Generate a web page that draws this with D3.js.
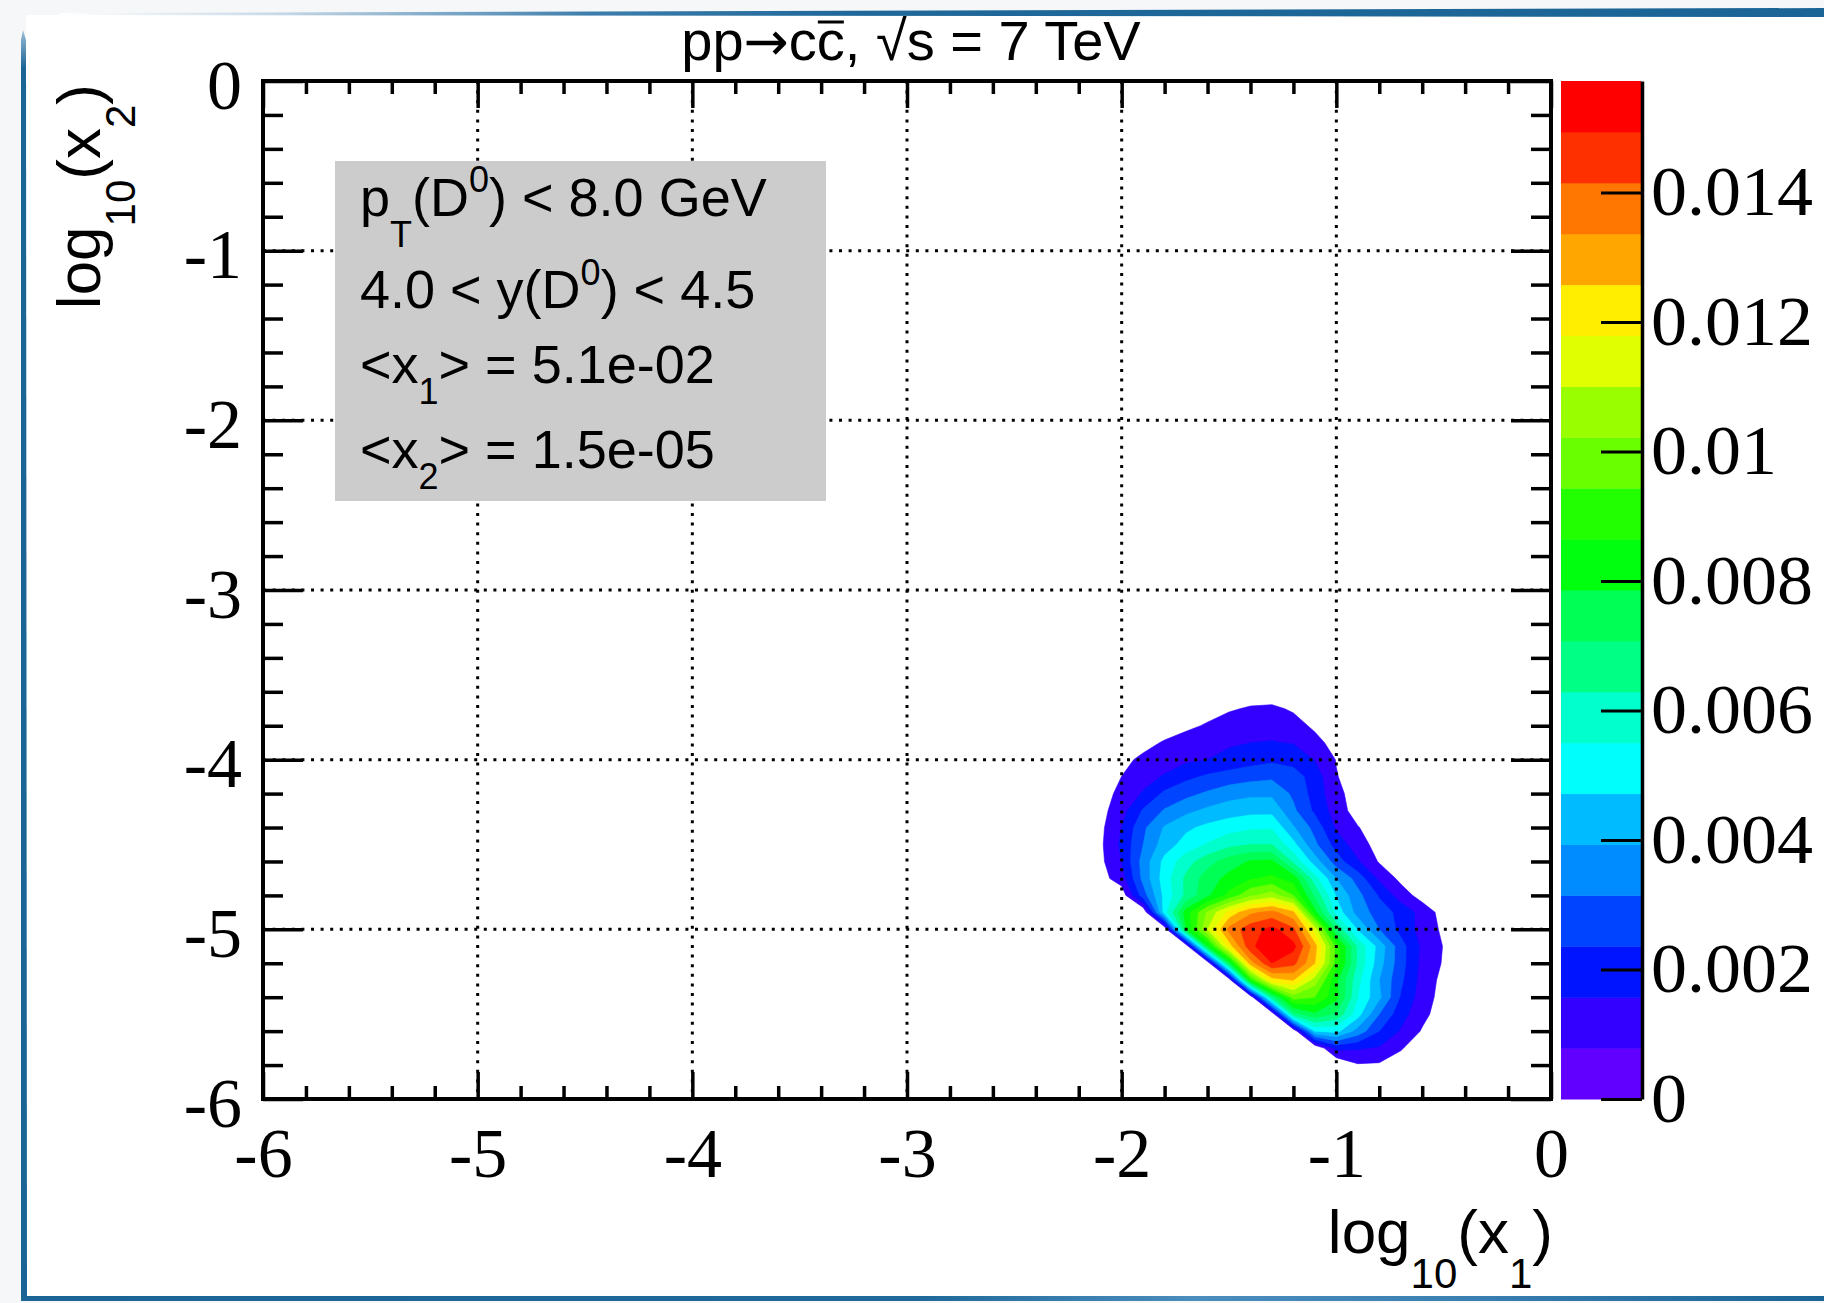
<!DOCTYPE html>
<html><head><meta charset="utf-8">
<script src="https://cdn.jsdelivr.net/npm/d3@7"></script>
<style>html,body{margin:0;padding:0;background:#f6f7f8;} svg{display:block;}</style>
</head><body>
<svg id="chart" width="1824" height="1303"></svg>
<script>
// ---------------- data ----------------
// bin centres of log10(x1) (columns) and log10(x2) (rows, top to bottom)
const xCenters = [-2.2,-2.1,-2.0,-1.9,-1.8,-1.7,-1.6,-1.5,-1.4,-1.3,-1.2,-1.1,-1.0,-0.9,-0.8,-0.7,-0.6,-0.5,-0.4];
const yCenters = [-3.5,-3.6,-3.7,-3.8,-3.9,-4.0,-4.1,-4.2,-4.3,-4.4,-4.5,-4.6,-4.7,-4.8,-4.9,-5.0,-5.1,-5.2,-5.3,-5.4,-5.5,-5.6,-5.7,-5.8,-5.9];
// density values, in units of 1e-3 (one row per yCenter)
const zUnit = 1e-3;
const zGrid = [
 [0,0,0,0,0,0,0,0,0,0,0,0,0,0,0,0,0,0,0],
 [0,0,0,0,0,0,0.16,0.28,0.39,0.43,0.35,0.16,0,0,0,0,0,0,0],
 [0,0,0,0,0.08,0.31,0.51,0.71,0.86,0.90,0.71,0.39,0.16,0,0,0,0,0,0],
 [0,0,0,0.16,0.39,0.63,0.86,1.10,1.22,1.26,1.02,0.67,0.39,0.16,0,0,0,0,0],
 [0,0,0.24,0.55,0.86,1.10,1.30,1.45,1.57,1.61,1.53,0.98,0.55,0.28,0.08,0,0,0,0],
 [0,0.24,0.59,0.94,1.18,1.41,1.57,1.85,2.04,2.20,2.04,1.53,0.75,0.35,0.12,0,0,0,0],
 [0,0.39,0.79,1.26,1.65,2.16,2.48,2.67,2.87,2.99,2.75,1.97,0.83,0.35,0.12,0,0,0,0],
 [0.08,0.47,0.98,1.65,2.52,2.91,3.26,3.62,3.77,3.77,2.99,2.04,1.02,0.39,0.12,0,0,0,0],
 [0.16,0.51,1.26,2.44,3.22,3.73,4.09,4.32,4.48,4.48,3.30,2.20,1.18,0.43,0.12,0,0,0,0],
 [0.20,0.59,1.57,2.99,4.01,4.56,4.91,5.19,5.38,5.42,4.01,2.87,1.45,0.83,0.31,0.08,0,0,0],
 [0.24,0.63,1.73,3.14,4.32,5.03,5.58,6.05,6.29,6.29,4.95,3.30,2.04,1.14,0.47,0.16,0,0,0],
 [0.20,0.59,1.57,3.46,4.95,5.97,6.76,7.47,7.94,8.02,6.13,4.32,2.75,1.65,0.71,0.28,0.08,0,0],
 [0.16,0.47,1.18,3.38,5.11,6.45,7.47,8.10,8.57,8.80,8.33,5.82,3.93,2.83,1.41,0.59,0.20,0.04,0],
 [0,0,0.30,2.75,4.95,6.45,7.70,8.88,10.06,10.61,9.43,6.92,4.64,3.38,2.28,1.18,0.47,0.12,0],
 [0,0,0,0,5.11,8.25,10.30,12.03,13.20,13.60,12.73,8.10,5.19,3.62,2.75,2.12,1.26,0.47,0.08],
 [0,0,0,0,0,7.86,11.00,13.60,14.62,15.17,14.31,11.40,6.92,4.64,3.14,2.12,1.26,0.63,0.16],
 [0,0,0,0,0,0,7.86,12.18,14.70,15.72,15.17,12.89,9.12,6.13,4.40,2.67,1.41,0.75,0.24],
 [0,0,0,0,0,0,0,7.47,12.97,14.93,14.38,12.58,9.04,6.13,4.24,2.67,1.34,0.71,0.20],
 [0,0,0,0,0,0,0,0,8.65,12.18,12.58,10.61,8.02,5.74,3.93,2.52,1.26,0.55,0.12],
 [0,0,0,0,0,0,0,0,0,6.68,9.83,9.43,8.10,5.50,4.09,2.28,1.18,0.47,0.08],
 [0,0,0,0,0,0,0,0,0,0,6.68,7.70,6.92,5.03,3.14,1.89,1.02,0.35,0.04],
 [0,0,0,0,0,0,0,0,0,0,0,4.72,4.95,3.62,2.36,1.49,0.71,0.16,0],
 [0,0,0,0,0,0,0,0,0,0,0,0,1.81,1.65,1.49,0.86,0.31,0,0],
 [0,0,0,0,0,0,0,0,0,0,0,0,0,0.71,0.67,0.39,0.08,0,0],
 [0,0,0,0,0,0,0,0,0,0,0,0,0,0,0,0,0,0,0]
];
const zMax = 0.01572;
const nLevels = 20;
const palette = ["#6200ff","#3300ff","#0014ff","#0044ff","#008bff","#00bbff","#00fffc","#00ffcc","#00ff85","#00ff55",
                 "#00ff0e","#22ff00","#69ff00","#99ff00","#e0ff00","#ffee00","#ffa700","#ff7700","#ff3000","#ff0000"];
const axisTicks = [-6,-5,-4,-3,-2,-1,0];
const axisTickLabels = ["-6","-5","-4","-3","-2","-1","0"];
const gridValues = [-5,-4,-3,-2,-1];
const zTicks = [0,0.002,0.004,0.006,0.008,0.010,0.012,0.014];
const zTickLabels = ["0","0.002","0.004","0.006","0.008","0.01","0.012","0.014"];
const titleParts = [{t:"pp"},{t:"\u2192",arrow:true},{t:"cc, \u221As = 7 TeV"}];
const legendLines = [
  [{t:"p"},{t:"T",s:31},{t:"(D"},{t:"0",s:-24},{t:") < 8.0 GeV"}],
  [{t:"4.0 < y(D"},{t:"0",s:-23},{t:") < 4.5"}],
  [{t:"<x"},{t:"1",s:21},{t:"> = 5.1e-02"}],
  [{t:"<x"},{t:"2",s:21},{t:"> = 1.5e-05"}]
];

// ---------------- layout ----------------
const W = 1824, H = 1303;
const F = {left: 263, right: 1551, top: 81, bottom: 1099};
const CB = {x: 1561, w: 80, axis: 1642, labelWidth: 162};
const serif = "'Liberation Serif','Times New Roman',serif";
const sans = "'Liberation Sans',Arial,Helvetica,sans-serif";
const blue = "#1a6496";

const svg = d3.select("#chart");
const defs = svg.append("defs");

// page decoration
svg.append("rect").attr("width", W).attr("height", H).attr("fill", "#f6f7f8");
svg.append("rect").attr("x", 26).attr("y", 15).attr("width", W - 26).attr("height", 1282).attr("fill", "#ffffff");
const gTop = defs.append("linearGradient").attr("id","gTop").attr("gradientUnits","userSpaceOnUse")
  .attr("x1",60).attr("x2",1824).attr("y1",0).attr("y2",0);
[[0,"#ffffff"],[0.12,"#c9dae8"],[0.3,"#3d7dab"],[0.45,"#1f6899"],[1,blue]].forEach(s =>
  gTop.append("stop").attr("offset", s[0]).attr("stop-color", s[1]));
svg.append("path").attr("d","M60,13 L1824,8 L1824,17 L60,15 Z").attr("fill","url(#gTop)");
const gBot = defs.append("linearGradient").attr("id","gBot").attr("gradientUnits","userSpaceOnUse")
  .attr("x1",20).attr("x2",1824).attr("y1",0).attr("y2",0);
[[0,blue],[0.5,"#1f6a9b"],[0.65,"#4b8dbd"],[0.8,"#3a80b2"],[1,blue]].forEach(s =>
  gBot.append("stop").attr("offset", s[0]).attr("stop-color", s[1]));
svg.append("rect").attr("x", 21).attr("y", 1296).attr("width", W - 21).attr("height", 5).attr("fill","url(#gBot)");
const gLeft = defs.append("linearGradient").attr("id","gLeft").attr("x1",0).attr("x2",0).attr("y1",0).attr("y2",1);
[[0,"#9fc0d8"],[0.03,blue],[1,blue]].forEach(s => gLeft.append("stop").attr("offset", s[0]).attr("stop-color", s[1]));
svg.append("path").attr("d","M23,30 L26,40 L27,1300 L21,1300 L21,40 Z").attr("fill","url(#gLeft)");

// scales
const x = d3.scaleLinear().domain([-6, 0]).range([F.left, F.right]);
const y = d3.scaleLinear().domain([-6, 0]).range([F.bottom, F.top]);
const zScale = d3.scaleLinear().domain([0, zMax]).range([F.bottom, F.top]);

// contours
const nx = xCenters.length, ny = yCenters.length;
const values = zGrid.flat().map(v => v * zUnit);
const dz = zMax / nLevels;
const thresholds = d3.range(1, nLevels).map(k => k * dz);
const contours = d3.contours().size([nx, ny]).thresholds(thresholds)(values);
const gx = d3.scaleLinear().domain([0.5, nx - 0.5]).range([x(xCenters[0]), x(xCenters[nx - 1])]);
const gy = d3.scaleLinear().domain([0.5, ny - 0.5]).range([y(yCenters[0]), y(yCenters[ny - 1])]);
const proj = d3.geoTransform({point(px, py) { this.stream.point(gx(px), gy(py)); }});
const path = d3.geoPath(proj);
defs.append("clipPath").attr("id","frameClip").append("rect")
  .attr("x", F.left).attr("y", F.top).attr("width", F.right - F.left).attr("height", F.bottom - F.top);
svg.append("g").attr("clip-path","url(#frameClip)")
  .selectAll("path").data(contours).join("path")
  .attr("d", path)
  .attr("fill", d => palette[Math.round(d.value / dz)])
  .attr("stroke", d => palette[Math.round(d.value / dz)])
  .attr("stroke-width", 0.6);

// grid
const grid = svg.append("g").attr("stroke","#000").attr("stroke-width",3).attr("stroke-dasharray","3,6.6");
grid.selectAll("line.v").data(gridValues).join("line").attr("class","v")
  .attr("x1", d => x(d)).attr("x2", d => x(d)).attr("y1", F.top).attr("y2", F.bottom);
grid.selectAll("line.h").data(gridValues).join("line").attr("class","h")
  .attr("y1", d => y(d)).attr("y2", d => y(d)).attr("x1", F.left).attr("x2", F.right);

// axes
const minor = d3.range(-6, 0.0001, 0.2).map(v => +v.toFixed(1)).filter(v => Math.abs(v - Math.round(v)) > 1e-6);
function styleAxis(g) {
  g.select(".domain").remove();
  g.selectAll(".tick line").attr("stroke","#000").attr("stroke-width",3.5);
  g.selectAll(".tick text").attr("fill","#000");
  g.attr("font-family", serif).attr("font-size", 70);
}
const fmt = d => axisTickLabels[axisTicks.indexOf(d)];
svg.append("g").attr("transform",`translate(0,${F.bottom})`)
  .call(d3.axisBottom(x).tickValues(axisTicks).tickSize(-27).tickPadding(28).tickFormat(fmt)).call(styleAxis);
svg.append("g").attr("transform",`translate(0,${F.bottom})`)
  .call(d3.axisBottom(x).tickValues(minor).tickSize(-13).tickFormat("")).call(styleAxis);
svg.append("g").attr("transform",`translate(0,${F.top})`)
  .call(d3.axisTop(x).tickValues(axisTicks).tickSize(-27).tickFormat("")).call(styleAxis);
svg.append("g").attr("transform",`translate(0,${F.top})`)
  .call(d3.axisTop(x).tickValues(minor).tickSize(-13).tickFormat("")).call(styleAxis);
const yl = svg.append("g").attr("transform",`translate(${F.left},0)`)
  .call(d3.axisLeft(y).tickValues(axisTicks).tickSize(-40).tickPadding(21).tickFormat(fmt)).call(styleAxis);
yl.selectAll(".tick text").attr("dy","0.39em");
svg.append("g").attr("transform",`translate(${F.left},0)`)
  .call(d3.axisLeft(y).tickValues(minor).tickSize(-20).tickFormat("")).call(styleAxis);
svg.append("g").attr("transform",`translate(${F.right},0)`)
  .call(d3.axisRight(y).tickValues(axisTicks).tickSize(-40).tickFormat("")).call(styleAxis);
svg.append("g").attr("transform",`translate(${F.right},0)`)
  .call(d3.axisRight(y).tickValues(minor).tickSize(-20).tickFormat("")).call(styleAxis);

// frame
svg.append("rect").attr("x", F.left).attr("y", F.top).attr("width", F.right - F.left).attr("height", F.bottom - F.top)
  .attr("fill","none").attr("stroke","#000").attr("stroke-width",4);

// colour bar
svg.append("g").selectAll("rect").data(d3.range(nLevels)).join("rect")
  .attr("x", CB.x).attr("width", CB.w)
  .attr("y", k => zScale((k + 1) * dz)).attr("height", k => zScale(k * dz) - zScale((k + 1) * dz) + 0.5)
  .attr("fill", k => palette[k]);
const cb = svg.append("g").attr("transform",`translate(${CB.axis},0)`)
  .call(d3.axisRight(zScale).tickValues(zTicks).tickSize(-41).tickSizeOuter(0).tickPadding(9)
    .tickFormat(d => zTickLabels[zTicks.indexOf(d)]));
cb.attr("font-family", serif).attr("font-size", 70);
cb.select(".domain").attr("stroke","#000").attr("stroke-width",3.5);
cb.selectAll(".tick line").attr("stroke","#000").attr("stroke-width",3);
cb.selectAll(".tick text").attr("fill","#000");
{
  // the palette labels are drawn horizontally stretched in the reference
  let wMax = 0;
  cb.selectAll(".tick text").each(function() { wMax = Math.max(wMax, this.getComputedTextLength()); });
  const sx = wMax > 0 ? CB.labelWidth / wMax : 1;
  cb.selectAll(".tick text").attr("x", 0).attr("transform", `translate(9,0) scale(${sx},1)`);
}

// legend box
svg.append("rect").attr("x",335).attr("y",161).attr("width",491).attr("height",340).attr("fill","#cccccc");
const legendBaselines = [216, 308, 383, 468];
legendLines.forEach((parts, i) => {
  const t = svg.append("text").attr("x", 360).attr("y", legendBaselines[i])
    .attr("font-family", sans).attr("font-size", 54).attr("fill","#000");
  let cur = 0;
  parts.forEach(p => {
    const s = p.s || 0;
    t.append("tspan").attr("dy", s - cur).attr("font-size", s ? 36 : 54).text(p.t);
    cur = s;
  });
});

// title
const title = svg.append("text").attr("x", 911).attr("y", 60).attr("text-anchor","middle")
  .attr("font-family", sans).attr("font-size", 56).attr("fill","#000");
titleParts.forEach(p => {
  const ts = title.append("tspan").text(p.t);
  if (p.arrow) ts.attr("font-family", "'DejaVu Sans',sans-serif").attr("font-size", 54);
});
{
  const n = title.node();
  const s = n.getStartPositionOfChar(4), e = n.getEndPositionOfChar(4);
  svg.append("line").attr("x1", s.x + 1).attr("x2", e.x - 1).attr("y1", 22).attr("y2", 22)
    .attr("stroke","#000").attr("stroke-width",3);
}

// axis titles
function axisTitle(sel, sub2) {
  const parts = [{t:"log"},{t:"10",s:35},{t:"(x"},{t:sub2,s:35},{t:")"}];
  let cur = 0;
  parts.forEach(p => {
    const s = p.s || 0;
    sel.append("tspan").attr("dy", s - cur).attr("font-size", s ? 42 : 62).text(p.t);
    cur = s;
  });
}
const xt = svg.append("text").attr("x", 1553).attr("y", 1253).attr("text-anchor","end")
  .attr("font-family", sans).attr("font-size", 62).attr("fill","#000");
axisTitle(xt, "1");
const ytt = svg.append("text").attr("transform","translate(100,84) rotate(-90)").attr("text-anchor","end")
  .attr("font-family", sans).attr("font-size", 62).attr("fill","#000");
axisTitle(ytt, "2");
</script>
</body></html>
